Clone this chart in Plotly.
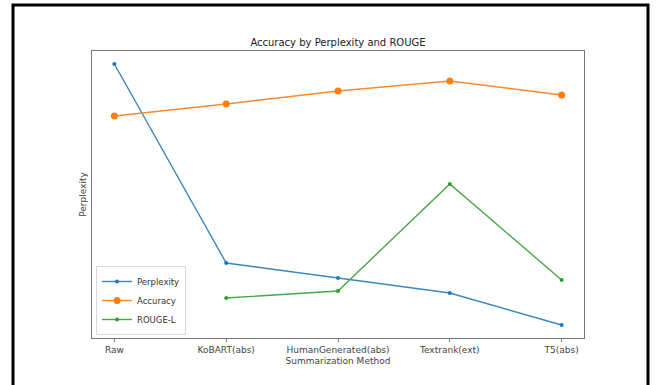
import plotly.graph_objects as go

methods = ["Raw", "KoBART(abs)", "HumanGenerated(abs)", "Textrank(ext)", "T5(abs)"]
perplexity = [274, 75, 60, 45, 13]
accuracy = [222, 234, 247, 257, 243]
rouge_l = [None, 40, 47, 154, 58]

W, H = 656, 385
L, R, T, B = 92, 584, 51, 338

fig = go.Figure()
fig.add_trace(go.Scatter(x=methods, y=perplexity, name="Perplexity", mode="lines+markers",
                         line=dict(color="#3a87bf", width=1.4), marker=dict(size=4, color="#1f77b4")))
fig.add_trace(go.Scatter(x=methods, y=accuracy, name="Accuracy", mode="lines+markers",
                         line=dict(color="#fb8a2e", width=1.4), marker=dict(size=7, color="#ff7f0e")))
fig.add_trace(go.Scatter(x=methods, y=rouge_l, name="ROUGE-L", mode="lines+markers",
                         line=dict(color="#45a845", width=1.4), marker=dict(size=4, color="#2ca02c"),
                         connectgaps=False))

def px_x(p):
    return (p - L) / (R - L)

def px_y(p):
    return (B - p) / (B - T)

fig.add_shape(type="rect", xref="paper", yref="paper",
              x0=px_x(13), x1=px_x(648), y0=px_y(395), y1=px_y(5),
              line=dict(color="black", width=3), fillcolor="rgba(0,0,0,0)", layer="above")

fig.update_layout(
    width=W, height=H,
    margin=dict(l=L, r=W - R, t=T, b=H - B),
    paper_bgcolor="white", plot_bgcolor="white",
    font=dict(family="DejaVu Sans", size=9, color="#444"),
    title=dict(text="Accuracy by Perplexity and ROUGE", x=0.5, xref="paper", xanchor="center",
               y=1 - 42 / H, yanchor="middle", font=dict(size=10, color="#222")),
    showlegend=True,
    legend=dict(x=px_x(96), y=px_y(335), xanchor="left", yanchor="bottom",
                bgcolor="white", bordercolor="#d8d8d8", borderwidth=1,
                font=dict(size=8.5, color="#333"), tracegroupgap=0, itemwidth=30),
    xaxis=dict(type="category", range=[-0.2, 4.2], showgrid=False, zeroline=False,
               showline=True, linecolor="#777", linewidth=1, mirror=True,
               ticks="outside", ticklen=3, tickcolor="#777",
               title=dict(text="Summarization Method", font=dict(size=9, color="#444"), standoff=3)),
    yaxis=dict(range=[0, B - T], showgrid=False, zeroline=False,
               showline=True, linecolor="#777", linewidth=1, mirror=True,
               showticklabels=False, ticks="",
               title=dict(text="Perplexity", font=dict(size=9, color="#444"), standoff=2)),
)

fig.write_html("out.html", config={"displayModeBar": False},
               post_script="document.body.style.margin='0px';")
